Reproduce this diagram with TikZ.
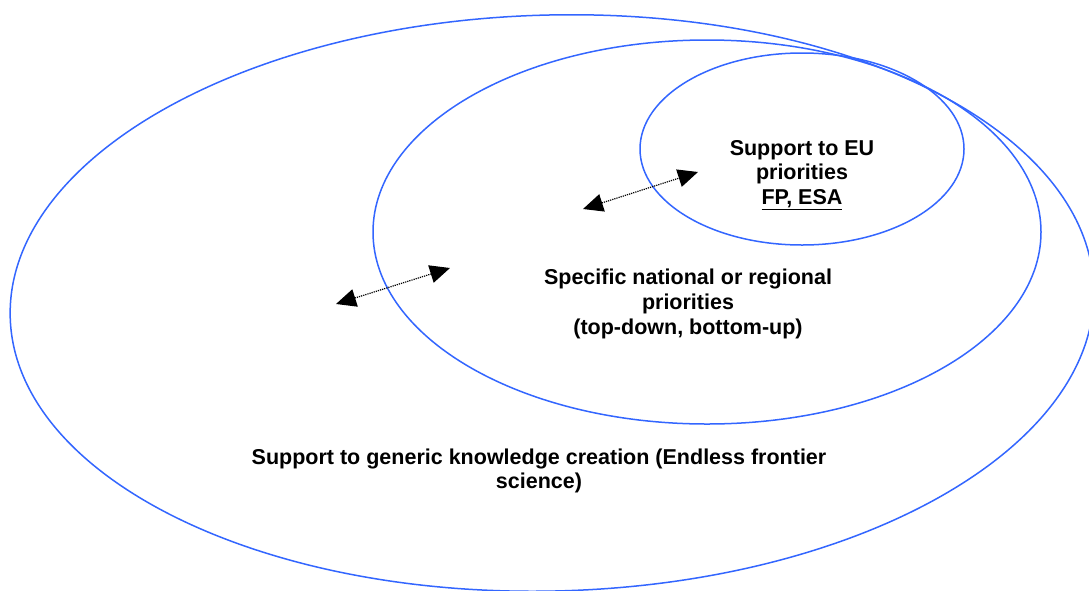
\documentclass[tikz,border=0pt]{standalone}
\usepackage{fontspec}
\setmainfont{Liberation Sans}
\usetikzlibrary{arrows.meta}
\definecolor{ringblue}{HTML}{3366FF}
\begin{document}
\begin{tikzpicture}[x=1pt,y=-1pt,
  ring/.style={draw=ringblue,line width=1.5pt},
  label/.style={align=center,font=\fontsize{21.5}{24.8}\selectfont\bfseries,inner sep=0pt},
  link/.style={densely dotted,line width=1.2pt,
    {Triangle[length=20pt,width=18pt]}-{Triangle[length=20pt,width=18pt]}}]
\useasboundingbox (0,0) rectangle (1089,590);
\clip (0,0) rectangle (1089,590);
\fill[white] (0,0) rectangle (1089,590);
% nested fields of support
\draw[ring,rotate around={1.5:(552,303)}] (552,303) ellipse [x radius=542,y radius=288];
\draw[ring] (707,232) ellipse [x radius=334,y radius=192];
\draw[ring] (802,149) ellipse [x radius=162,y radius=96];
% labels
\node[label] (eu) at (802,175) {Support to EU\\priorities\\\underline{FP, ESA}};
\node[label] (nat) at (688,304) {Specific national or regional\\priorities\\(top-down, bottom-up)};
\node[label] (gen) at (539,471) {Support to generic knowledge creation (Endless frontier\\science)};
% two-way links between the levels
\coordinate (a1) at (583,209);
\coordinate (a2) at (698,172);
\coordinate (b1) at (336,304);
\coordinate (b2) at (450,268);
\draw[link] (a1) -- (a2);
\draw[link] (b1) -- (b2);
\end{tikzpicture}
\end{document}
